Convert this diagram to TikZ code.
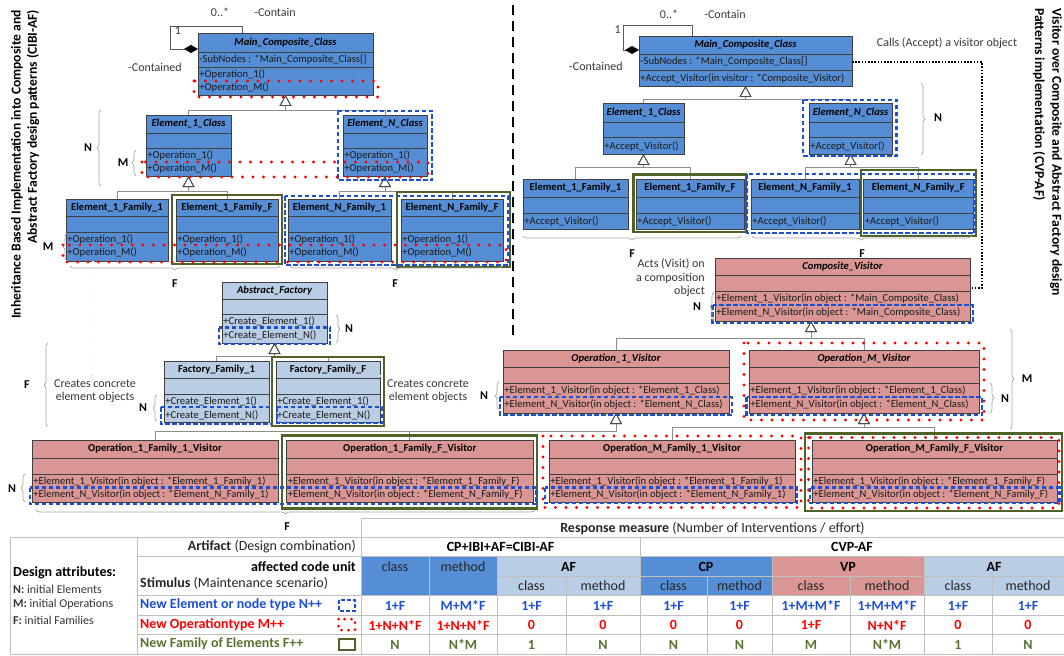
\documentclass[tikz,border=0pt]{standalone}
\usepackage{fontspec}
\setmainfont{Carlito}
\usetikzlibrary{arrows.meta,decorations.pathreplacing}

\definecolor{clsblue}{HTML}{558ED5}
\definecolor{clslight}{HTML}{B9CDE5}
\definecolor{clspink}{HTML}{D99694}
\definecolor{famgreen}{HTML}{4F6228}
\definecolor{famtext}{HTML}{5A7330}
\definecolor{elemblue}{HTML}{1B4FD6}
\definecolor{opred}{HTML}{FF0000}
\definecolor{rulegray}{HTML}{404040}
\definecolor{linkgray}{HTML}{8C8C8C}
\definecolor{bracegray}{HTML}{A6A6A6}
\definecolor{gridgray}{HTML}{BFBFBF}

\tikzset{
  classbox/.style={draw=rulegray, line width=0.8pt, inner sep=0pt, outer sep=0pt, rectangle},
  classrule/.style={draw=rulegray, line width=0.8pt},
  classtitle/.style={font=\fontsize{10.6}{12}\selectfont\bfseries, inner sep=0pt},
  umlmemb/.style={font=\fontsize{10.6}{12}\selectfont, inner sep=1.2pt, anchor=west, text=black!90},
  note/.style={font=\fontsize{12}{13.5}\selectfont, text=black!78, inner sep=1pt},
  count/.style={font=\fontsize{12}{14}\selectfont\bfseries, inner sep=0pt},
  sidetitle/.style={font=\fontsize{13.6}{15}\selectfont\bfseries, inner sep=0pt},
  newelem/.style={draw=elemblue, line width=2.3pt, dash pattern=on 4.5pt off 2.5pt},
  newop/.style={draw=opred, line width=3.2pt, dash pattern=on 0pt off 10.5pt, line cap=round},
  newfam/.style={draw=famgreen, line width=2.6pt},
  generalization/.style={draw=linkgray, line width=0.8pt,
    -{Triangle[open, length=11pt, width=12pt, color=black!70]}},
  assoc/.style={draw=black!65, line width=0.8pt,
    -{Diamond[length=14pt, width=8pt, color=black]}},
  depend/.style={draw=black, line width=0.55pt, double=white, double distance=1.1pt,
    dash pattern=on 1.3pt off 1.3pt},
  calls/.style={draw=black, line width=1.6pt, dash pattern=on 1.6pt off 1.6pt},
  divider/.style={draw=black, line width=1.8pt, dash pattern=on 10pt off 6pt},
  bracemark/.style={draw=bracegray, line width=0.7pt, decorate,
    decoration={brace, amplitude=4pt}},
  gridline/.style={draw=gridgray, line width=0.8pt},
  tabhead/.style={font=\fontsize{14}{16}\selectfont\bfseries, inner sep=2pt},
  tabtext/.style={font=\fontsize{14}{16}\selectfont, inner sep=2pt, text=black!85},
  valcell/.style={font=\fontsize{14}{16}\selectfont\bfseries, inner sep=1pt},
  legendtext/.style={font=\fontsize{12}{14}\selectfont, inner sep=2pt, anchor=west, text=black!80},
}

% #1 name, #2 fill, #3 left, #4 right, #5 top, #6 title rule, #7 attribute rule, #8 bottom, #9 title
\newcommand\umlclass[9]{%
  \node[classbox, fill=#2, minimum width={#4-#3}, minimum height={#8-#5}, anchor=north west] (#1) at (#3,#5) {};
  \draw[classrule] (#3,#6) -- (#4,#6) (#3,#7) -- (#4,#7);
  \node[classtitle] (#1-title) at ({(#3+#4)/2},{(#5+#6)/2}) {#9};
}
\newcommand\umlmember[4]{\node[umlmemb] (#1) at (#2,#3) {#4};}

\begin{document}
\begin{tikzpicture}[x=1pt, y=-1pt]
\fill[white] (0,0) rectangle (1064,655);
\useasboundingbox (0,0) rectangle (1064,655);

% ---------------- side titles and divider ----------------
\node[sidetitle, rotate=90, anchor=east] (titleL1) at (17,10) {Inheritance Based Implementation into Composite and};
\node[sidetitle, rotate=90, anchor=east] (titleL2) at (33,10) {Abstract Factory design patterns (CIBI-AF)};
\node[sidetitle, rotate=-90, anchor=west] (titleR1) at (1056,8) {Visitor over Composite and Abstract Factory design};
\node[sidetitle, rotate=-90, anchor=west] (titleR2) at (1039,8) {Patterns implementation (CVP-AF)};
\draw[divider] (513,5) -- (513,335);

% ================= CIBI-AF (left) =================
\umlclass{mainL}{clsblue}{198}{373}{33}{52}{67}{95}{\itshape Main\_Composite\_Class}
\umlmember{mainL-a}{198}{59.5}{-SubNodes : *Main\_Composite\_Class[]}
\umlmember{mainL-o1}{198}{74}{+Operation\_1()}
\umlmember{mainL-oM}{198}{87.5}{+Operation\_M()}

\umlclass{e1cL}{clsblue}{146}{231}{115}{133}{148}{176}{\itshape Element\_1\_Class}
\umlmember{e1cL-o1}{146}{155}{+Operation\_1()}
\umlmember{e1cL-oM}{146}{168}{+Operation\_M()}
\umlclass{enCL}{clsblue}{343}{427}{115}{133}{148}{176}{\itshape Element\_N\_Class}
\umlmember{enCL-o1}{343}{155}{+Operation\_1()}
\umlmember{enCL-oM}{343}{168}{+Operation\_M()}

\umlclass{e1f1L}{clsblue}{66}{168}{199}{216}{232}{261}{Element\_1\_Family\_1}
\umlmember{e1f1L-o1}{66}{239.5}{+Operation\_1()}
\umlmember{e1f1L-oM}{66}{252.5}{+Operation\_M()}
\umlclass{e1fFL}{clsblue}{176}{278}{199}{216}{232}{261}{Element\_1\_Family\_F}
\umlmember{e1fFL-o1}{176}{239.5}{+Operation\_1()}
\umlmember{e1fFL-oM}{176}{252.5}{+Operation\_M()}
\umlclass{enf1L}{clsblue}{288}{391}{199}{216}{232}{261}{Element\_N\_Family\_1}
\umlmember{enf1L-o1}{288}{239.5}{+Operation\_1()}
\umlmember{enf1L-oM}{288}{252.5}{+Operation\_M()}
\umlclass{enfFL}{clsblue}{401}{503}{199}{216}{232}{261}{Element\_N\_Family\_F}
\umlmember{enfFL-o1}{401}{239.5}{+Operation\_1()}
\umlmember{enfFL-oM}{401}{252.5}{+Operation\_M()}

\umlclass{af}{clslight}{222}{327}{282}{299}{314}{343}{\itshape Abstract\_Factory}
\umlmember{af-o1}{222}{321.5}{+Create\_Element\_1()}
\umlmember{af-oN}{222}{335}{+Create\_Element\_N()}
\umlclass{ff1}{clslight}{164}{269}{361}{378}{394}{422}{Factory\_Family\_1}
\umlmember{ff1-o1}{164}{401.5}{+Create\_Element\_1()}
\umlmember{ff1-oN}{164}{415}{+Create\_Element\_N()}
\umlclass{ffF}{clslight}{276}{380}{361}{378}{394}{422}{Factory\_Family\_F}
\umlmember{ffF-o1}{276}{401.5}{+Create\_Element\_1()}
\umlmember{ffF-oN}{276}{415}{+Create\_Element\_N()}

% composition loop
\draw[assoc] ([xshift=44pt]mainL.north west) -- ++(0,-7) -| ([xshift=-28pt, yshift=-16pt]mainL.north west) -- ([yshift=-16pt]mainL.north west);
\node[note] (mulL1) at (178,31) {1};
\node[note] (mulLn) at (220,12) {0..*};
\node[note] (roleL1) at (275,12) {-Contain};
\node[note] (roleL2) at (155,67) {-Contained};

% generalizations
\draw[generalization] (e1cL.north) |- (mainL.south |- 0,110) -- (mainL.south);
\draw[generalization] (enCL.north) |- (mainL.south |- 0,110) -- (mainL.south);
\draw[generalization] (e1f1L.north) |- (e1cL.south |- 0,191) -- (e1cL.south);
\draw[generalization] (e1fFL.north) |- (e1cL.south |- 0,191) -- (e1cL.south);
\draw[generalization] (enf1L.north) |- (enCL.south |- 0,191) -- (enCL.south);
\draw[generalization] (enfFL.north) |- (enCL.south |- 0,191) -- (enCL.south);
\draw[generalization] (ff1.north) |- (af.south |- 0,356) -- (af.south);
\draw[generalization] (ffF.north) |- (af.south |- 0,356) -- (af.south);

% factories create the concrete elements
\coordinate (dL1) at (93,376);
\coordinate (dL2) at (93,266);
\coordinate (dL3) at (315,266);
\coordinate (dR1) at (478,376);
\coordinate (dR2) at (478,275);
\coordinate (dR3) at (253,275);
\draw[depend] ([yshift=-15pt]ff1.north west) -- (dL1) -- (e1f1L.south -| dL1);
\draw[depend] (dL2) -- (dL3) -- (dL3 |- enf1L.south);
\draw[depend] ([yshift=-15pt]ffF.north east) -- (dR1) -- (dR1 |- enfFL.south);
\draw[depend] (dR2) -- (dR3) -- (dR3 |- e1fFL.south);
\node[note, align=center] (createsL) at (95,391) {Creates concrete\\element objects};
\node[note, align=center] (createsR) at (428,391) {Creates concrete\\element objects};

% change highlights
\draw[newop] (194,81) rectangle (378,97);
\draw[newop] (142,162) rectangle (428,177);
\draw[newelem] (338,111) rectangle (432,180);
\draw[newfam] (172,195) rectangle (282,264);
\draw[newelem] (285,196) rectangle (508,265);
\draw[newfam] (397,192) rectangle (510,267);
\draw[newop] (63,245) rectangle (506,262);
\draw[newelem] (219,327.5) rectangle (330,344);
\draw[newelem] (161,407) rectangle (272,424);
\draw[newelem] (277,407) rectangle (382,423);
\draw[newfam] (272,357) rectangle (384,426);

% counts
\draw[bracemark] (101,186) -- (101,110);
\node[count] (cntL1) at (88,148) {N};
\draw[bracemark] (136,176) -- (136,150);
\node[count] (cntL2) at (123,163) {M};
\draw[bracemark] (67,261) -- (67,233);
\node[count] (cntL3) at (48,247) {M};
\draw[bracemark] (280,266) -- (70,266);
\node[count] (cntL4) at (175,284) {F};
\draw[bracemark] (502,266) -- (290,266);
\node[count] (cntL5) at (395,284) {F};
\draw[bracemark] (336,315) -- (336,343);
\node[count] (cntL6) at (349,329) {N};
\draw[bracemark] (157,421) -- (157,395);
\node[count] (cntL7) at (143,408) {N};
\draw[bracemark] (48,427) -- (48,343);
\node[count] (cntL8) at (27,385) {F};

% ================= CVP-AF (right) =================
\umlclass{mainR}{clsblue}{639}{852}{36}{54}{70}{86}{\itshape Main\_Composite\_Class}
\umlmember{mainR-a}{639}{62}{-SubNodes : *Main\_Composite\_Class[]}
\umlmember{mainR-o}{639}{78}{+Accept\_Visitor(in visitor : *Composite\_Visitor)}

\umlclass{e1cR}{clsblue}{603}{684}{103.5}{122.5}{137.5}{154}{\itshape Element\_1\_Class}
\umlmember{e1cR-o}{603}{146}{+Accept\_Visitor()}
\umlclass{enCR}{clsblue}{809}{892}{103.5}{122.5}{137.5}{154}{\itshape Element\_N\_Class}
\umlmember{enCR-o}{809}{146}{+Accept\_Visitor()}

\umlclass{e1f1R}{clsblue}{523}{628}{179}{197}{213}{229}{Element\_1\_Family\_1}
\umlmember{e1f1R-o}{523}{221}{+Accept\_Visitor()}
\umlclass{e1fFR}{clsblue}{636}{744}{179}{197}{213}{229}{Element\_1\_Family\_F}
\umlmember{e1fFR-o}{636}{221}{+Accept\_Visitor()}
\umlclass{enf1R}{clsblue}{751}{859}{179}{197}{213}{229}{Element\_N\_Family\_1}
\umlmember{enf1R-o}{751}{221}{+Accept\_Visitor()}
\umlclass{enfFR}{clsblue}{863.5}{973}{179}{197}{213}{229}{Element\_N\_Family\_F}
\umlmember{enfFR-o}{863.5}{221}{+Accept\_Visitor()}

\umlclass{cv}{clspink}{715}{970}{258}{275}{291}{321}{\itshape Composite\_Visitor}
\umlmember{cv-o1}{715}{298.5}{+Element\_1\_Visitor(in object : *Main\_Composite\_Class)}
\umlmember{cv-oN}{715}{313}{+Element\_N\_Visitor(in object : *Main\_Composite\_Class)}

\umlclass{op1v}{clspink}{503}{729}{350}{367}{383}{413}{\itshape Operation\_1\_Visitor}
\umlmember{op1v-o1}{503}{390.5}{+Element\_1\_Visitor(in object : *Element\_1\_Class)}
\umlmember{op1v-oN}{503}{405}{+Element\_N\_Visitor(in object : *Element\_N\_Class)}
\umlclass{opMv}{clspink}{749}{979}{350}{367}{383}{413}{\itshape Operation\_M\_Visitor}
\umlmember{opMv-o1}{749}{390.5}{+Element\_1\_Visitor(in object : *Element\_1\_Class)}
\umlmember{opMv-oN}{749}{405}{+Element\_N\_Visitor(in object : *Element\_N\_Class)}

\umlclass{op1f1}{clspink}{32}{278}{440}{458}{474}{502}{Operation\_1\_Family\_1\_Visitor}
\umlmember{op1f1-o1}{32}{481.5}{+Element\_1\_Visitor(in object : *Element\_1\_Family\_1)}
\umlmember{op1f1-oN}{32}{495}{+Element\_N\_Visitor(in object : *Element\_N\_Family\_1)}
\umlclass{op1fF}{clspink}{286.5}{533}{440}{458}{474}{502}{Operation\_1\_Family\_F\_Visitor}
\umlmember{op1fF-o1}{286.5}{481.5}{+Element\_1\_Visitor(in object : *Element\_1\_Family\_F)}
\umlmember{op1fF-oN}{286.5}{495}{+Element\_N\_Visitor(in object : *Element\_N\_Family\_F)}
\umlclass{opMf1}{clspink}{549}{795}{440}{458}{474}{502}{Operation\_M\_Family\_1\_Visitor}
\umlmember{opMf1-o1}{549}{481.5}{+Element\_1\_Visitor(in object : *Element\_1\_Family\_1)}
\umlmember{opMf1-oN}{549}{495}{+Element\_N\_Visitor(in object : *Element\_N\_Family\_1)}
\umlclass{opMfF}{clspink}{812}{1057}{440}{458}{474}{502}{Operation\_M\_Family\_F\_Visitor}
\umlmember{opMfF-o1}{812}{481.5}{+Element\_1\_Visitor(in object : *Element\_1\_Family\_F)}
\umlmember{opMfF-oN}{812}{495}{+Element\_N\_Visitor(in object : *Element\_N\_Family\_F)}

% composition loop
\draw[assoc] ([xshift=53pt]mainR.north west) -- ++(0,-11) -| ([xshift=-16pt, yshift=-14pt]mainR.north west) -- ([yshift=-14pt]mainR.north west);
\node[note, anchor=east] (mulR1) at (622,30) {1};
\node[note] (mulRn) at (669,14) {0..*};
\node[note] (roleR1) at (725,14) {-Contain};
\node[note] (roleR2) at (596,66) {-Contained};

% generalizations
\draw[generalization] (e1cR.north) |- (mainR.south |- 0,99) -- (mainR.south);
\draw[generalization] (enCR.north) |- (mainR.south |- 0,99) -- (mainR.south);
\draw[generalization] (e1f1R.north) |- (e1cR.south |- 0,167.5) -- (e1cR.south);
\draw[generalization] (e1fFR.north) |- (e1cR.south |- 0,167.5) -- (e1cR.south);
\draw[generalization] (enf1R.north) |- (enCR.south |- 0,167.5) -- (enCR.south);
\draw[generalization] (enfFR.north) |- (enCR.south |- 0,167.5) -- (enCR.south);
\coordinate (gCV) at (811,338);
\draw[generalization] (op1v.north) |- (gCV) -- (gCV |- cv.south);
\draw[generalization] (opMv.north) |- (gCV) -- (gCV |- cv.south);
\draw[generalization] (op1f1.north) |- (op1v.south |- 0,431) -- (op1v.south);
\draw[generalization] (op1fF.north) |- (op1v.south |- 0,431) -- (op1v.south);
\draw[generalization] (opMf1.north) |- (opMv.south |- 0,427.5) -- (opMv.south);
\draw[generalization] (opMfF.north) |- (opMv.south |- 0,427.5) -- (opMv.south);

% accept call
\coordinate (cR1) at (982,62);
\draw[calls] ([yshift=-26pt]mainR.north east) -- (cR1) |- ([yshift=-30pt]cv.north east);
\node[note] (callsLbl) at (947,43) {Calls (Accept) a visitor object};
\node[note, align=right, anchor=east] (actsLbl) at (706,278) {Acts (Visit) on\\a composition\\object};

% change highlights
\draw[newelem] (803,100) rectangle (896.5,156);
\draw[newfam] (633.5,174.5) rectangle (746,232);
\draw[newelem] (747,174) rectangle (974.5,233);
\draw[newfam] (861,170) rectangle (976,236);
\draw[newelem] (712.5,305) rectangle (973,323);
\draw[newelem] (500,397) rectangle (732,415);
\draw[newop] (744,343) rectangle (984,420);
\draw[newelem] (746.5,397) rectangle (982,415);
\draw[newfam] (282,435.5) rectangle (537,508.5);
\draw[newelem] (30,487.5) rectangle (536,504);
\draw[newop] (543,436) rectangle (801,507.5);
\draw[newelem] (545,487.5) rectangle (797,503);
\draw[newfam] (805,433.5) rectangle (1062,511);
\draw[newop] (808.5,437.5) rectangle (1059,508);
\draw[newelem] (810,487.5) rectangle (1059.5,503);

% counts
\draw[bracemark] (921,83) -- (921,155);
\node[count] (cntR1) at (938,118) {N};
\draw[bracemark] (741,236) -- (523,236);
\node[count] (cntR2) at (632,254) {F};
\draw[bracemark] (971,236) -- (752,236);
\node[count] (cntR3) at (862,254) {F};
\draw[bracemark] (714,321) -- (714,292);
\node[count] (cntR4) at (697,307) {N};
\draw[bracemark] (499,410) -- (499,382);
\node[count] (cntR5) at (484,396) {N};
\draw[bracemark] (990,383) -- (990,413);
\node[count] (cntR6) at (1005,399) {N};
\draw[bracemark] (1010,329) -- (1010,429);
\node[count] (cntR7) at (1027,379) {M};
\draw[bracemark] (25,502) -- (25,474);
\node[count] (cntR8) at (12,489) {N};
\draw[bracemark] (535,510) -- (36,510);
\node[count] (cntR9) at (287,527) {F};

% ================= response measure table =================
\fill[clsblue] (361,556.5) rectangle (497,595.5);
\fill[clslight] (497,556.5) rectangle (640,595.5);
\fill[clsblue] (640,556.5) rectangle (772,595.5);
\fill[clspink] (772,556.5) rectangle (924,595.5);
\fill[clslight] (924,556.5) rectangle (1064,595.5);

\draw[gridline] (361,518) -- (1064,518);
\draw[gridline] (10,537.5) -- (1064,537.5);
\draw[gridline] (137,556.5) -- (1064,556.5);
\draw[gridline] (497,576) -- (1064,576);
\draw[gridline] (137,595.5) -- (1064,595.5);
\draw[gridline] (137,615) -- (1064,615);
\draw[gridline] (137,634.5) -- (1064,634.5);
\draw[gridline] (10,654) -- (1064,654);
\draw[gridline] (10,537.5) -- (10,654);
\draw[gridline] (137,537.5) -- (137,654);
\draw[gridline] (361,518) -- (361,654);
\foreach \gx in {429,497,772,924} \draw[gridline] (\gx,556.5) -- (\gx,654);
\foreach \gx in {566,707,850,992} \draw[gridline] (\gx,576) -- (\gx,654);
\draw[gridline] (640,537.5) -- (640,654);

\node[tabtext] (respLbl) at (712.5,528) {\textbf{Response measure} (Number of Interventions / effort)};
\node[tabtext, anchor=east] (artLbl) at (358,547) {\textbf{Artifact} (Design combination)};
\node[tabhead, anchor=east] (unitLbl) at (358,566.5) {affected code unit};
\node[tabtext, anchor=west] (stimLbl) at (138,583.5) {\textbf{Stimulus} (Maintenance scenario)};

\node[font=\fontsize{14}{16}\selectfont\bfseries, anchor=west, inner sep=2pt] (dattr) at (11,572.5) {Design attributes:};
\node[legendtext] (legN) at (11,589) {\textbf{N:} initial Elements};
\node[legendtext] (legM) at (11,604) {\textbf{M:} initial Operations};
\node[legendtext] (legF) at (11,620.5) {\textbf{F:} initial Families};

\node[tabhead, anchor=west, text=elemblue] (stimN) at (138,605) {New Element or node type N++};
\node[tabhead, anchor=west, text=opred] (stimM) at (138,624.5) {New Operationtype M++};
\node[tabhead, anchor=west, text=famtext] (stimF) at (138,644) {New Family of Elements F++};
\draw[newelem, line width=2pt, dash pattern=on 3.5pt off 2.5pt] (338.5,600) rectangle (355,610.5);
\draw[newop, line width=3pt, dash pattern=on 0pt off 7pt] (338.5,619) rectangle (355,630);
\draw[newfam, line width=2.2pt] (339,639) rectangle (355,650);

\node[tabhead] (hCIBI) at (500.5,547) {CP+IBI+AF=CIBI-AF};
\node[tabhead] (hCVP) at (852,547) {CVP-AF};
\node[tabhead] (hAF1) at (568.5,566.5) {AF};
\node[tabhead] (hCP) at (706,566.5) {CP};
\node[tabhead] (hVP) at (848,566.5) {VP};
\node[tabhead] (hAF2) at (994,566.5) {AF};
\node[tabtext] (uC0) at (395,566.5) {class};
\node[tabtext] (uM0) at (463,566.5) {method};
\foreach \cx/\lbl [count=\i] in {531.5/class, 603/method, 673.5/class, 739.5/method, 811/class, 887/method, 958/class, 1028/method}
  \node[tabtext] (unit\i) at (\cx,586) {\lbl};

\foreach \cx/\val [count=\i] in {395/1+F, 463/M+M*F, 531.5/1+F, 603/1+F, 673.5/1+F, 739.5/1+F, 811/1+M+M*F, 887/1+M+M*F, 958/1+F, 1028/1+F}
  \node[valcell, text=elemblue] (valN\i) at (\cx,605.5) {\val};
\foreach \cx/\val [count=\i] in {395/1+N+N*F, 463/1+N+N*F, 531.5/0, 603/0, 673.5/0, 739.5/0, 811/1+F, 887/N+N*F, 958/0, 1028/0}
  \node[valcell, text=opred] (valM\i) at (\cx,625) {\val};
\foreach \cx/\val [count=\i] in {395/N, 463/N*M, 531.5/1, 603/N, 673.5/N, 739.5/N, 811/M, 887/N*M, 958/1, 1028/N}
  \node[valcell, text=famtext] (valF\i) at (\cx,644.5) {\val};

\end{tikzpicture}
\end{document}
